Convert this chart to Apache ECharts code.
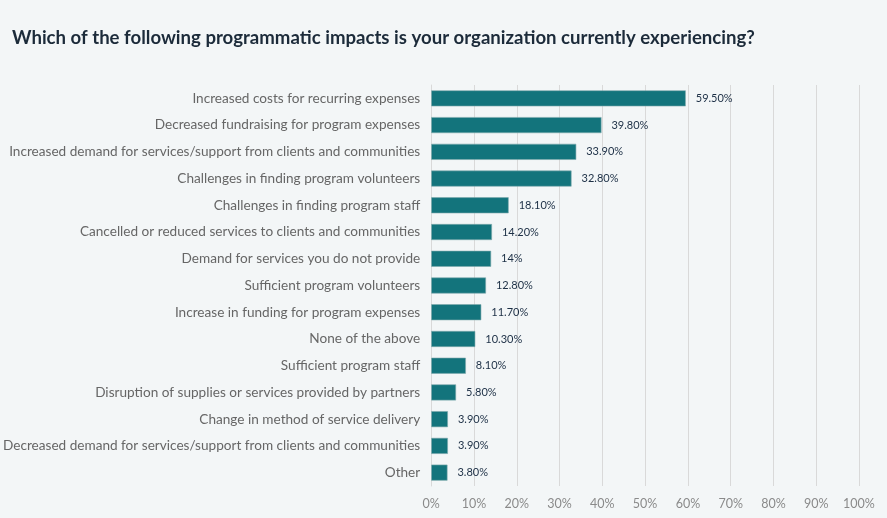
<!DOCTYPE html>
<html><head><meta charset="utf-8">
<script src="https://cdn.jsdelivr.net/npm/echarts@6/dist/echarts.min.js"></script>
<style>html,body{margin:0;padding:0;background:#f3f6f7;}#c{width:887px;height:518px;}</style>
</head><body><div id="c"></div>
<script>
const categories = [
  "Increased costs for recurring expenses",
  "Decreased fundraising for program expenses",
  "Increased demand for services/support from clients and communities",
  "Challenges in finding program volunteers",
  "Challenges in finding program staff",
  "Cancelled or reduced services to clients and communities",
  "Demand for services you do not provide",
  "Sufficient program volunteers",
  "Increase in funding for program expenses",
  "None of the above",
  "Sufficient program staff",
  "Disruption of supplies or services provided by partners",
  "Change in method of service delivery",
  "Decreased demand for services/support from clients and communities",
  "Other"
];
const values = [59.5, 39.8, 33.9, 32.8, 18.1, 14.2, 14, 12.8, 11.7, 10.3, 8.1, 5.8, 3.9, 3.9, 3.8];
const valueLabels = ["59.50%","39.80%","33.90%","32.80%","18.10%","14.20%","14%","12.80%","11.70%","10.30%","8.10%","5.80%","3.90%","3.90%","3.80%"];
const tickLabels = ["0%","10%","20%","30%","40%","50%","60%","70%","80%","90%","100%"];

const chart = echarts.init(document.getElementById('c'));
chart.setOption({
  backgroundColor: '#f3f6f7',
  animation: false,
  title: {
    text: 'Which of the following programmatic impacts is your organization currently experiencing?',
    left: 7, top: 23,
    textStyle: { fontFamily: 'Lato', fontWeight: 'bold', fontSize: 18.6, color: '#1c2b3a' }
  },
  grid: { left: 431, right: 28, top: 85, bottom: 32, containLabel: false },
  xAxis: {
    type: 'value', min: 0, max: 100, interval: 10,
    axisLine: { show: false }, axisTick: { show: false },
    splitLine: { show: true, lineStyle: { color: '#d9d9d9', width: 1 } },
    axisLabel: {
      margin: 11, color: '#8a8a8a', fontFamily: 'Lato', fontSize: 12.5,
      formatter: (v) => tickLabels[Math.round(v / 10)]
    }
  },
  yAxis: {
    type: 'category', inverse: true, data: categories,
    axisLine: { show: true, lineStyle: { color: '#d9d9d9' } },
    axisTick: { show: false },
    axisLabel: { margin: 11, color: '#666666', fontFamily: 'Lato', fontSize: 13.6 }
  },
  series: [{
    type: 'bar', data: values, barWidth: 16,
    itemStyle: { color: '#13747c', borderColor: '#7fa9ad', borderWidth: 0.6 },
    label: {
      show: true, position: 'right', distance: 10,
      color: '#1c2f45', fontFamily: 'Lato', fontSize: 11,
      formatter: (p) => valueLabels[p.dataIndex]
    }
  }]
});
</script></body></html>
